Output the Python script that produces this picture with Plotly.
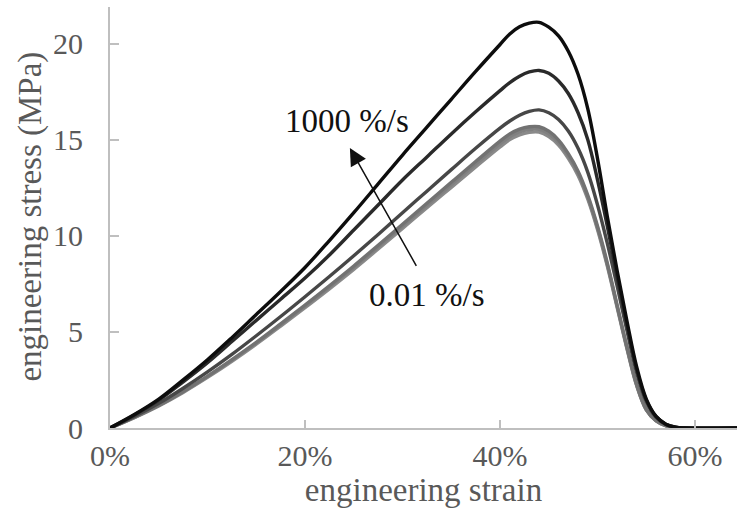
import plotly.graph_objects as go

# engineering strain (%) sample points
strain = [0, 2.5, 5, 7.5, 10, 12.5, 15, 17.5, 20, 22.5, 25, 27.5, 30, 32.5, 35, 37.5,
          40, 41, 42, 43, 44, 45, 46, 47, 48, 49, 50, 51, 52, 53, 54, 55, 56, 57, 58, 59, 64.3]

# engineering stress (MPa), one list per strain rate
stress_1000 = [0, 0.7, 1.5, 2.5, 3.55, 4.7, 5.9, 7.1, 8.35, 9.75, 11.2, 12.7, 14.2, 15.65,
               17.1, 18.55, 19.95, 20.5, 20.87, 21.06, 21.1, 20.85, 20.4, 19.6, 18.4, 16.6,
               14.0, 11.0, 8.2, 5.6, 3.2, 1.5, 0.6, 0.2, 0.04, 0, 0]
stress_100 = [0, 0.68, 1.45, 2.4, 3.4, 4.5, 5.6, 6.7, 7.8, 9.0, 10.3, 11.6, 12.9, 14.1,
              15.3, 16.45, 17.55, 17.97, 18.3, 18.52, 18.6, 18.45, 18.05, 17.4, 16.4, 15.0,
              12.9, 10.5, 7.9, 5.4, 3.05, 1.45, 0.6, 0.2, 0.04, 0, 0]
stress_10 = [0, 0.6, 1.28, 2.07, 2.92, 3.83, 4.8, 5.8, 6.83, 7.88, 8.96, 10.07, 11.2, 12.32,
             13.44, 14.55, 15.6, 15.97, 16.27, 16.47, 16.55, 16.4, 16.05, 15.45, 14.55, 13.3,
             11.6, 9.6, 7.4, 5.1, 2.9, 1.35, 0.55, 0.18, 0.03, 0, 0]
stress_1 = [0, 0.56, 1.18, 1.9, 2.7, 3.56, 4.46, 5.42, 6.4, 7.4, 8.43, 9.51, 10.6, 11.69,
            12.78, 13.86, 14.92, 15.3, 15.55, 15.67, 15.67, 15.44, 14.98, 14.27, 13.36, 12.1,
            10.49, 8.58, 6.41, 4.24, 2.28, 0.96, 0.38, 0.12, 0.02, 0, 0]
stress_01 = [0, 0.55, 1.17, 1.88, 2.67, 3.52, 4.42, 5.37, 6.34, 7.33, 8.35, 9.42, 10.5, 11.58,
             12.66, 13.73, 14.78, 15.15, 15.4, 15.53, 15.53, 15.3, 14.85, 14.15, 13.25, 12.0,
             10.4, 8.5, 6.35, 4.2, 2.25, 0.95, 0.38, 0.12, 0.02, 0, 0]
stress_001 = [0, 0.54, 1.15, 1.85, 2.63, 3.47, 4.36, 5.3, 6.26, 7.24, 8.25, 9.31, 10.38, 11.46,
              12.52, 13.58, 14.62, 15.0, 15.25, 15.38, 15.39, 15.16, 14.72, 14.03, 13.14, 11.9,
              10.31, 8.42, 6.29, 4.16, 2.22, 0.94, 0.37, 0.11, 0.02, 0, 0]

series = [
    ("0.01 %/s", stress_001, "#8a8a8a"),
    ("0.1 %/s", stress_01, "#808080"),
    ("1 %/s", stress_1, "#727272"),
    ("10 %/s", stress_10, "#474747"),
    ("100 %/s", stress_100, "#2a2a2a"),
    ("1000 %/s", stress_1000, "#0d0d0d"),
]

x_ticks = [0, 20, 40, 60]
x_tick_text = ["0%", "20%", "40%", "60%"]
y_ticks = [0, 5, 10, 15, 20]

FONT = "Liberation Serif, Times New Roman, serif"
GREY = "#595959"
AXIS = "#bfbfbf"

fig = go.Figure()
for name, ys, col in series:
    fig.add_trace(go.Scatter(
        x=strain, y=ys, mode="lines", name=name,
        line=dict(color=col, width=3.4, shape="spline", smoothing=1.0),
        showlegend=False, hoverinfo="skip",
    ))

fig.add_annotation(x=24.3, y=15.96, xref="x", yref="y", text="1000 %/s",
                   showarrow=False, font=dict(family=FONT, size=33, color="#111111"))
fig.add_annotation(x=32.5, y=6.9, xref="x", yref="y", text="0.01 %/s",
                   showarrow=False, font=dict(family=FONT, size=33, color="#111111"))
fig.add_annotation(x=24.6, y=14.57, ax=31.5, ay=8.36, xref="x", yref="y",
                   axref="x", ayref="y", text="", showarrow=True,
                   arrowhead=2, arrowsize=2.3, arrowwidth=1.5, arrowcolor="#111111")
# y-axis title
fig.add_annotation(x=-0.127, y=0.503, xref="paper", yref="paper",
                   text="engineering stress (MPa)", textangle=-90, showarrow=False,
                   xanchor="center", yanchor="middle",
                   font=dict(family=FONT, size=33, color=GREY))

fig.update_layout(
    width=737, height=510,
    margin=dict(l=110, r=0, t=7, b=82),
    paper_bgcolor="white", plot_bgcolor="white",
    font=dict(family=FONT, color=GREY),
)
fig.update_xaxes(
    range=[0, 64.3], tickvals=x_ticks, ticktext=x_tick_text,
    showline=True, linecolor=AXIS, linewidth=2,
    ticks="inside", ticklen=8, tickcolor=AXIS, tickwidth=1.5,
    showgrid=False, zeroline=False,
    tickfont=dict(family=FONT, size=30, color=GREY),
    title=dict(text="engineering strain", font=dict(family=FONT, size=33, color=GREY), standoff=0),
)
fig.update_yaxes(
    range=[0, 21.9], tickvals=y_ticks,
    showline=True, linecolor=AXIS, linewidth=2,
    ticks="inside", ticklen=9, tickcolor=AXIS, tickwidth=1.5,
    showgrid=False, zeroline=False,
    tickfont=dict(family=FONT, size=30, color=GREY),
    ticklabelstandoff=19,
)

fig.write_html("out.html", config={"displayModeBar": False},
               post_script="document.body.style.margin='0';")
